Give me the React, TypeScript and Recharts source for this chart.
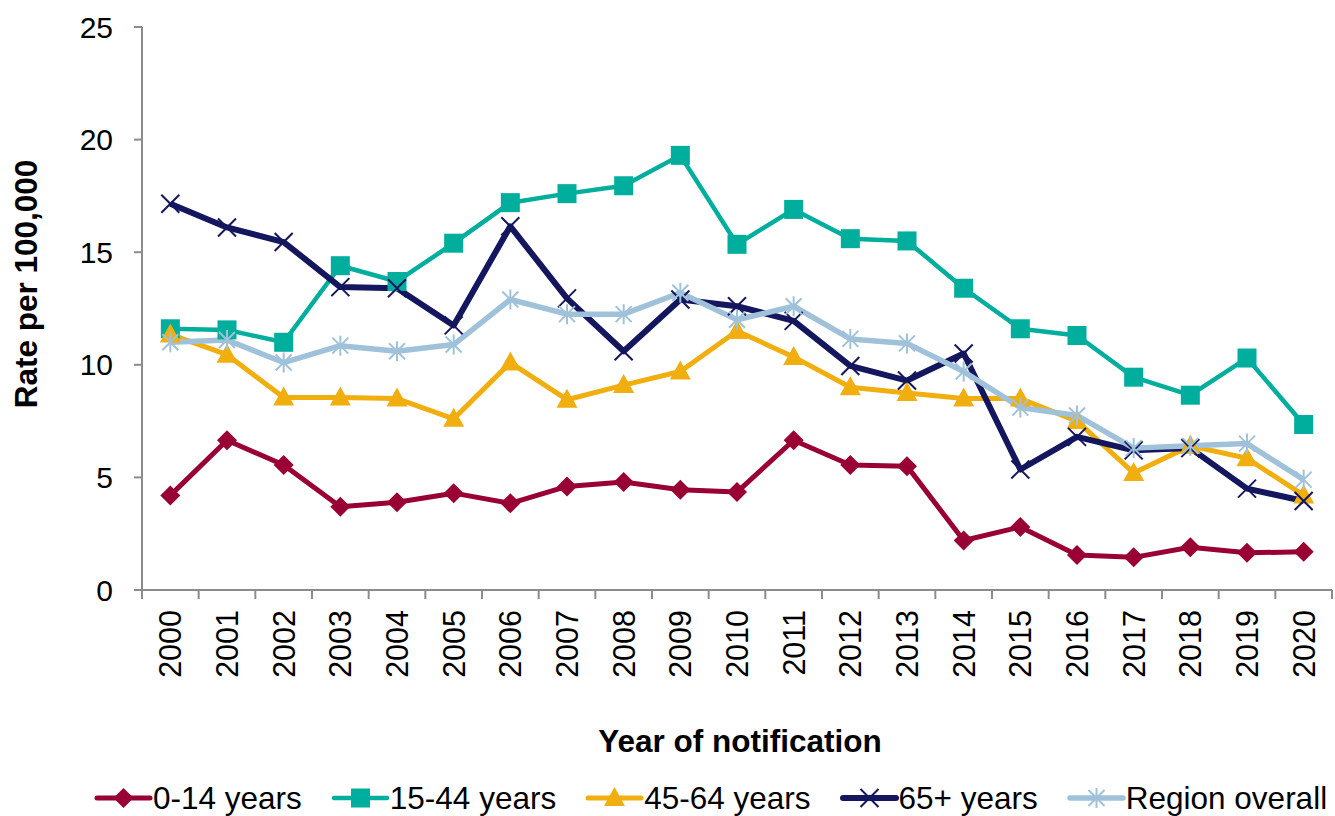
import React from 'react';
import { LineChart, Line, XAxis, YAxis, Label } from 'recharts';

const YEARS = ['2000', '2001', '2002', '2003', '2004', '2005', '2006', '2007', '2008', '2009', '2010',
  '2011', '2012', '2013', '2014', '2015', '2016', '2017', '2018', '2019', '2020'];

const AGE_0_14 = [4.2, 6.65, 5.55, 3.7, 3.9, 4.3, 3.85, 4.6, 4.8, 4.45, 4.35, 6.65, 5.55, 5.5, 2.2, 2.8, 1.55, 1.45, 1.9, 1.65, 1.7];
const AGE_15_44 = [11.6, 11.55, 11.0, 14.4, 13.7, 15.4, 17.2, 17.6, 17.95, 19.3, 15.35, 16.9, 15.6, 15.5, 13.4, 11.6, 11.3, 9.45, 8.65, 10.3, 7.35];
const AGE_45_64 = [11.35, 10.45, 8.55, 8.55, 8.5, 7.6, 10.1, 8.45, 9.1, 9.7, 11.5, 10.35, 9.0, 8.75, 8.5, 8.5, 7.5, 5.2, 6.4, 5.85, 4.2];
const AGE_65_PLUS = [17.15, 16.1, 15.45, 13.45, 13.4, 11.75, 16.15, 12.95, 10.6, 12.9, 12.6, 11.95, 9.95, 9.3, 10.5, 5.35, 6.8, 6.2, 6.3, 4.5, 3.95];
const REGION_OVERALL = [11.0, 11.1, 10.1, 10.85, 10.6, 10.9, 12.9, 12.25, 12.25, 13.2, 12.0, 12.6, 11.15, 10.95, 9.7, 8.1, 7.75, 6.3, 6.4, 6.5, 4.9];

const Y_TICKS = [0, 5, 10, 15, 20, 25];

const FONT = '"Liberation Sans", Arial, sans-serif';
const AXIS_COLOR = '#8c8c8c';

const data = YEARS.map((year, i) => ({
  year,
  a: AGE_0_14[i],
  b: AGE_15_44[i],
  c: AGE_45_64[i],
  d: AGE_65_PLUS[i],
  e: REGION_OVERALL[i],
}));

type Shape = 'diamond' | 'square' | 'triangle' | 'cross' | 'star';

// one marker glyph, shared by the series dots and the legend icons
const Marker = ({ shape, cx, cy, color }: { shape: Shape; cx: number; cy: number; color: string }) => {
  switch (shape) {
    case 'diamond':
      return <polygon points={`${cx},${cy - 10} ${cx + 10},${cy} ${cx},${cy + 10} ${cx - 10},${cy}`} fill={color} />;
    case 'square':
      return <rect x={cx - 9.5} y={cy - 9.5} width={19} height={19} fill={color} />;
    case 'triangle':
      return <polygon points={`${cx},${cy - 11} ${cx + 10.5},${cy + 8} ${cx - 10.5},${cy + 8}`} fill={color} />;
    case 'cross':
      return (
        <g stroke={color} strokeWidth={2}>
          <line x1={cx - 9} y1={cy - 9} x2={cx + 9} y2={cy + 9} />
          <line x1={cx - 9} y1={cy + 9} x2={cx + 9} y2={cy - 9} />
        </g>
      );
    default:
      return (
        <g stroke={color} strokeWidth={2}>
          <line x1={cx - 8} y1={cy - 8} x2={cx + 8} y2={cy + 8} />
          <line x1={cx - 8} y1={cy + 8} x2={cx + 8} y2={cy - 8} />
          <line x1={cx} y1={cy - 10} x2={cx} y2={cy + 10} />
        </g>
      );
  }
};

const SERIES: { key: string; name: string; color: string; width: number; shape: Shape }[] = [
  { key: 'a', name: '0-14 years', color: '#990033', width: 5, shape: 'diamond' },
  { key: 'b', name: '15-44 years', color: '#00ae9e', width: 4.5, shape: 'square' },
  { key: 'c', name: '45-64 years', color: '#f0ae0f', width: 5, shape: 'triangle' },
  { key: 'd', name: '65+ years', color: '#14165e', width: 6, shape: 'cross' },
  { key: 'e', name: 'Region overall', color: '#9fc2da', width: 5.5, shape: 'star' },
];

// rotated year label plus tick marks on the category boundaries
const YearTick = (props: any) => {
  const { x, y, payload, index } = props;
  const half = payload.offset || 28.33;
  return (
    <g>
      <line x1={x - half} y1={y} x2={x - half} y2={y + 9} stroke={AXIS_COLOR} strokeWidth={2} />
      {index === YEARS.length - 1 && (
        <line x1={x + half} y1={y} x2={x + half} y2={y + 9} stroke={AXIS_COLOR} strokeWidth={2} />
      )}
      <text
        transform={`translate(${x + 11},${y + 20}) rotate(-90)`}
        textAnchor="end"
        fontSize={30.5}
        fontFamily={FONT}
        fill="#000"
      >
        {payload.value}
      </text>
    </g>
  );
};

const LegendRow = () => (
  <div style={{ position: 'absolute', left: 94, top: 782, display: 'flex', alignItems: 'center', gap: 29 }}>
    {SERIES.map(s => (
      <div key={s.key} style={{ display: 'flex', alignItems: 'center', height: 32 }}>
        <svg width={59} height={24}>
          <line x1={3} y1={12} x2={56} y2={12} stroke={s.color} strokeWidth={s.width} strokeLinecap="round" />
          <Marker shape={s.shape} cx={29.5} cy={12} color={s.color} />
        </svg>
        <span style={{ fontSize: 31.5, fontFamily: FONT, color: '#000', lineHeight: '32px' }}>{s.name}</span>
      </div>
    ))}
  </div>
);

export default function App() {
  return (
    <div style={{ position: 'absolute', left: 0, top: 0, width: 1335, height: 816, background: '#fff', overflow: 'hidden' }}>
      <LineChart width={1335} height={816} data={data} margin={{ top: 27, right: 3, bottom: 0, left: 0 }}>
        <XAxis
          dataKey="year"
          scale="band"
          height={226}
          interval={0}
          tickSize={0}
          tickMargin={0}
          tick={<YearTick />}
          axisLine={{ stroke: AXIS_COLOR, strokeWidth: 2 }}
        >
          <Label
            content={() => (
              <text x={740} y={752} textAnchor="middle" fontSize={31.5} fontWeight="bold" fontFamily={FONT} fill="#000">
                Year of notification
              </text>
            )}
          />
        </XAxis>
        <YAxis
          domain={[0, 25]}
          ticks={Y_TICKS}
          width={142}
          tickSize={8}
          tickMargin={21}
          interval={0}
          tick={{ fontSize: 30, fontFamily: FONT, fill: '#000' }}
          tickLine={{ stroke: AXIS_COLOR, strokeWidth: 2 }}
          axisLine={{ stroke: AXIS_COLOR, strokeWidth: 2 }}
        >
          <Label
            content={() => (
              <text
                transform="translate(37,284) rotate(-90)"
                textAnchor="middle"
                fontSize={31.5}
                fontWeight="bold"
                fontFamily={FONT}
                fill="#000"
              >
                Rate per 100,000
              </text>
            )}
          />
        </YAxis>
        {SERIES.map(s => (
          <Line
            key={s.key}
            dataKey={s.key}
            name={s.name}
            stroke={s.color}
            strokeWidth={s.width}
            strokeLinejoin="round"
            isAnimationActive={false}
            activeDot={false}
            dot={(p: any) => <Marker key={`${s.key}-${p.index}`} shape={s.shape} cx={p.cx} cy={p.cy} color={s.color} />}
          />
        ))}
      </LineChart>
      <LegendRow />
    </div>
  );
}
